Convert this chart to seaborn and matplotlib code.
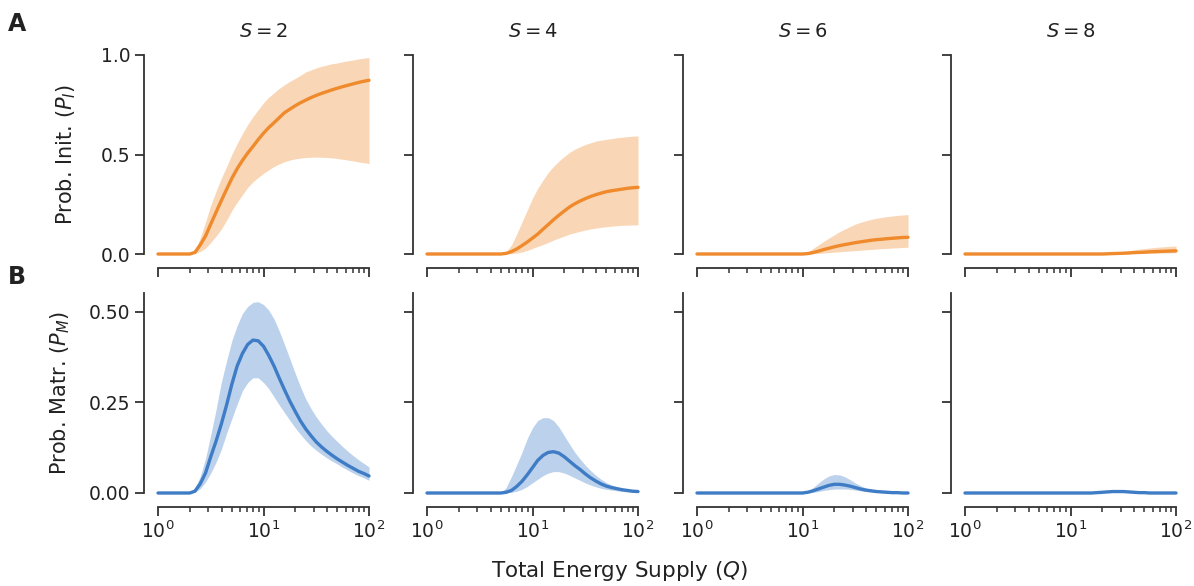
import numpy as np
import pandas as pd
import matplotlib
matplotlib.use("Agg")
import matplotlib.pyplot as plt
import seaborn as sns

# ---------------- data ----------------
# Total energy supply Q (log-spaced sample positions, 10^0 ... 10^2)
Q = [1.0, 1.12, 1.26, 1.41, 1.58, 1.78, 2.0, 2.24, 2.51, 2.82, 3.16, 3.55, 3.98,
     4.47, 5.01, 5.62, 6.31, 7.08, 7.94, 8.91, 10.0, 11.2, 12.6, 14.1, 15.8, 17.8,
     20.0, 22.4, 25.1, 28.2, 31.6, 35.5, 39.8, 44.7, 50.1, 56.2, 63.1, 70.8, 79.4,
     89.1, 100.0]
S_values = [2, 4, 6, 8]


def lead(n_zero, vals):
    """Values that are flat at zero before the visible onset, then read values."""
    out = [0.0] * n_zero + list(vals)
    assert len(out) == len(Q), len(out)
    return out


# Row A: probability of initiation P_I  (mean, lower, upper)
pi_mean_s2 = lead(6, [0, .008, .045, .09, .15, .21, .268, .325, .38, .428, .47, .507, .54, .575, .607, .635, .66, .685, .71, .728, .745, .76, .773, .786, .797, .807, .816, .825, .833, .841, .848, .855, .862, .868, .873])
pi_lo_s2   = lead(6, [0, .002, .012, .03, .058, .09, .125, .17, .218, .26, .298, .335, .362, .385, .405, .423, .44, .453, .464, .472, .478, .482, .485, .486, .487, .486, .485, .483, .48, .476, .472, .468, .463, .459, .455])
pi_hi_s2   = lead(6, [0, .02, .08, .16, .245, .315, .38, .44, .50, .555, .605, .65, .69, .725, .76, .788, .81, .832, .85, .868, .882, .898, .915, .925, .935, .943, .95, .956, .96, .966, .971, .975, .98, .984, .987])

pi_mean_s4 = lead(14, [0, .003, .012, .025, .042, .06, .08, .10, .125, .148, .172, .195, .216, .236, .252, .266, .278, .289, .298, .306, .313, .318, .322, .326, .33, .333, .335])
pi_lo_s4   = lead(14, [0, 0, .002, .005, .01, .018, .028, .038, .048, .058, .07, .08, .09, .10, .107, .114, .12, .126, .13, .134, .137, .14, .142, .144, .145, .146, .147])
pi_hi_s4   = lead(14, [0, .01, .045, .10, .16, .22, .28, .33, .372, .41, .44, .467, .49, .51, .526, .539, .55, .559, .567, .572, .576, .58, .584, .587, .59, .592, .593])

pi_mean_s6 = lead(20, [0, .002, .007, .014, .022, .029, .036, .042, .047, .052, .057, .061, .065, .069, .072, .074, .077, .079, .081, .083, .084])
pi_lo_s6   = lead(20, [0, .001, .002, .003, .005, .007, .009, .011, .013, .015, .017, .019, .021, .023, .025, .027, .028, .03, .031, .033, .034])
pi_hi_s6   = lead(20, [0, .01, .028, .045, .063, .08, .096, .112, .125, .138, .15, .159, .167, .174, .179, .184, .188, .191, .194, .196, .198])

pi_mean_s8 = lead(26, [0, .001, .002, .003, .004, .005, .007, .008, .009, .011, .012, .013, .014, .015, .016])
pi_lo_s8   = lead(26, [0, 0, 0, .001, .001, .002, .002, .003, .003, .004, .004, .005, .005, .006, .006])
pi_hi_s8   = lead(26, [0, .002, .005, .008, .012, .016, .02, .024, .027, .03, .033, .035, .037, .039, .04])

# Row B: probability of maturation P_M  (mean, lower, upper)
pm_mean_s2 = lead(6, [0, .005, .025, .055, .10, .143, .19, .243, .30, .35, .385, .41, .422, .42, .405, .38, .35, .317, .285, .253, .225, .199, .177, .158, .141, .127, .115, .104, .094, .085, .076, .068, .06, .054, .047])
pm_lo_s2   = lead(6, [0, .002, .012, .03, .055, .085, .12, .165, .205, .245, .282, .305, .318, .318, .305, .288, .265, .243, .222, .20, .18, .162, .145, .13, .118, .107, .097, .088, .08, .071, .063, .055, .048, .042, .035])
pm_hi_s2   = lead(6, [0, .015, .045, .095, .16, .23, .305, .365, .42, .462, .495, .515, .526, .528, .52, .505, .48, .447, .41, .37, .33, .293, .26, .233, .21, .19, .172, .156, .142, .128, .115, .103, .092, .082, .072])

pm_mean_s4 = lead(14, [0, .002, .007, .018, .032, .05, .07, .09, .104, .112, .114, .11, .10, .088, .076, .065, .053, .042, .033, .025, .019, .015, .012, .009, .007, .005, .004])
pm_lo_s4   = lead(14, [0, 0, .002, .005, .01, .018, .028, .038, .048, .055, .059, .059, .055, .049, .042, .035, .028, .022, .017, .013, .01, .008, .006, .004, .003, .002, .002])
pm_hi_s4   = lead(14, [0, .015, .045, .078, .112, .15, .18, .20, .208, .208, .20, .182, .158, .135, .113, .094, .077, .062, .049, .038, .029, .022, .017, .013, .01, .008, .006])

pm_mean_s6 = lead(20, [0, .002, .006, .011, .016, .021, .024, .024, .022, .019, .015, .011, .008, .006, .004, .003, .002, .001, .001, 0, 0])
pm_lo_s6   = lead(20, [0, 0, .002, .004, .007, .009, .011, .011, .011, .01, .008, .006, .004, .003, .002, .001, .001, 0, 0, 0, 0])
pm_hi_s6   = lead(20, [0, .005, .015, .027, .038, .047, .051, .05, .045, .037, .028, .02, .014, .009, .006, .004, .003, .002, .001, 0, 0])

pm_mean_s8 = lead(24, [0, .001, .002, .003, .004, .004, .004, .003, .002, .001, .001, 0, 0, 0, 0, 0, 0])
pm_lo_s8   = lead(24, [0, 0, .001, .001, .002, .002, .002, .001, .001, 0, 0, 0, 0, 0, 0, 0, 0])
pm_hi_s8   = lead(24, [0, .002, .004, .006, .007, .008, .007, .006, .004, .003, .002, .001, 0, 0, 0, 0, 0])

row_a = [(pi_mean_s2, pi_lo_s2, pi_hi_s2), (pi_mean_s4, pi_lo_s4, pi_hi_s4),
         (pi_mean_s6, pi_lo_s6, pi_hi_s6), (pi_mean_s8, pi_lo_s8, pi_hi_s8)]
row_b = [(pm_mean_s2, pm_lo_s2, pm_hi_s2), (pm_mean_s4, pm_lo_s4, pm_hi_s4),
         (pm_mean_s6, pm_lo_s6, pm_hi_s6), (pm_mean_s8, pm_lo_s8, pm_hi_s8)]

y_ticks_a = [0.0, 0.5, 1.0]
y_ticks_b = [0.0, 0.25, 0.50]
y_ticklabels_a = ["0.0", "0.5", "1.0"]
y_ticklabels_b = ["0.00", "0.25", "0.50"]

# ---------------- style ----------------
sns.set_theme(style="ticks")
plt.rcParams["font.family"] = ["DejaVu Sans"]
plt.rcParams.update({
    "axes.edgecolor": "#333333",
    "axes.linewidth": 1.3,
    "xtick.color": "#333333",
    "ytick.color": "#333333",
    "xtick.major.size": 6.5, "ytick.major.size": 6.5,
    "xtick.minor.size": 3.8,
    "xtick.major.width": 1.3, "ytick.major.width": 1.3,
    "xtick.minor.width": 1.1,
    "xtick.labelsize": 13.5, "ytick.labelsize": 13.5,
    "text.color": "#222222", "axes.labelcolor": "#222222",
    "xtick.labelcolor": "#222222", "ytick.labelcolor": "#222222",
})

orange = "#ef8a2d"
blue = "#3f7cc6"

fig = plt.figure(figsize=(11.94, 5.86), dpi=100)
W, H = 1194, 586
col_left = [158, 427, 697, 965]
col_w = 211
rowA = (55, 254)   # top, bottom pixels
rowB = (293, 493)

axes = [[None] * 4 for _ in range(2)]
for r, (top, bot) in enumerate([rowA, rowB]):
    for c in range(4):
        ax = fig.add_axes([col_left[c] / W, 1 - bot / H, col_w / W, (bot - top) / H])
        axes[r][c] = ax

for c in range(4):
    for r, (rows, color) in enumerate([(row_a, orange), (row_b, blue)]):
        ax = axes[r][c]
        mean, lo, hi = rows[c]
        df = pd.DataFrame({"Q": Q, "mean": mean, "lo": lo, "hi": hi})
        ax.fill_between(df["Q"], df["lo"], df["hi"], color=color, alpha=0.35,
                        linewidth=0, clip_on=False)
        sns.lineplot(data=df, x="Q", y="mean", ax=ax, color=color, lw=2.4,
                     clip_on=False)
        ax.set_xscale("log")
        ax.set_xlim(1, 100)
        ax.set_xlabel("")
        ax.set_ylabel("")
        if r == 0:
            ax.set_ylim(0, 1.0)
            ax.set_yticks(y_ticks_a)
            ax.set_yticklabels(y_ticklabels_a if c == 0 else [])
            ax.tick_params(axis="x", which="both", labelbottom=False)
            ax.set_title(rf"$S = {S_values[c]}$", fontsize=14, pad=13)
        else:
            ax.set_ylim(0, 0.552)
            ax.set_yticks(y_ticks_b)
            ax.set_yticklabels(y_ticklabels_b if c == 0 else [])
        sns.despine(ax=ax, offset=10)

axes[0][0].set_ylabel(r"Prob. Init. ($P_I$)", fontsize=15, labelpad=16)
axes[1][0].set_ylabel(r"Prob. Matr. ($P_M$)", fontsize=15, labelpad=12)

fig.text(0.519, 0.025, r"Total Energy Supply ($Q$)", ha="center", va="center", fontsize=15.5)
fig.text(8 / W, 1 - 24 / H, "A", fontsize=17, fontweight="bold", ha="left", va="center")
fig.text(8 / W, 1 - 277 / H, "B", fontsize=17, fontweight="bold", ha="left", va="center")

fig.savefig("out.png", dpi=100)
